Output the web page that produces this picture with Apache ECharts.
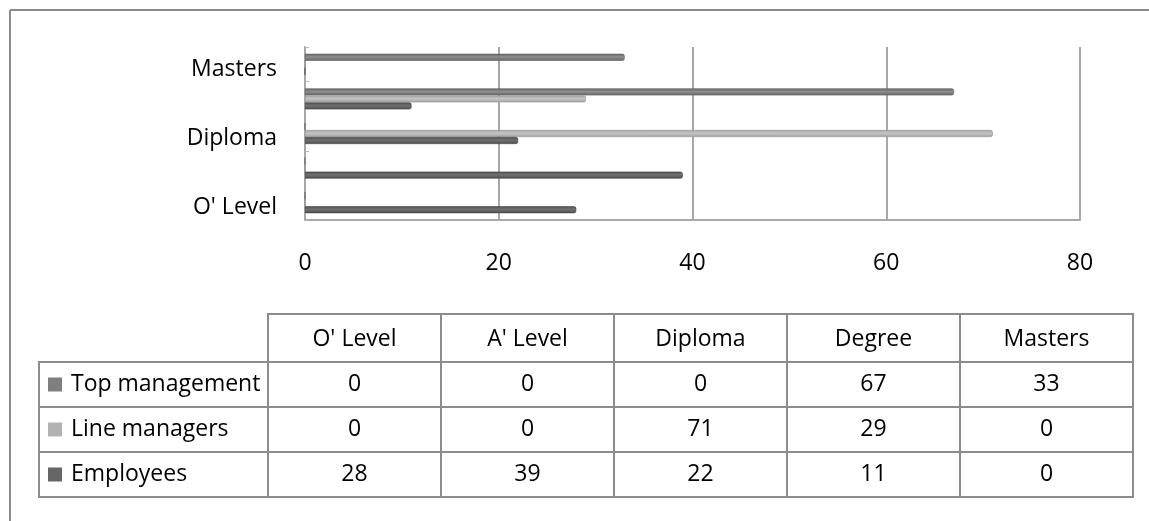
<!DOCTYPE html>
<html>
<head>
<meta charset="utf-8">
<title>Qualifications by staff level</title>
<script src="https://cdn.jsdelivr.net/npm/echarts@6/dist/echarts.min.js"></script>
<style>
  html, body { margin: 0; padding: 0; background: #ffffff; }
  #chart { width: 1149px; height: 521px; }
</style>
</head>
<body>
<div id="chart"></div>
<script>
// Education levels (bottom to top on the chart, left to right in the table)
const categories = ["O' Level", "A' Level", "Diploma", "Degree", "Masters"];

// Share of each staff group holding each qualification (%)
const topManagement = [0, 0, 0, 67, 33];
const lineManagers  = [0, 0, 71, 29, 0];
const employees     = [28, 39, 22, 11, 0];

const seriesNames = ['Top management', 'Line managers', 'Employees'];
const seriesData  = [topManagement, lineManagers, employees];

// Value axis range
const axisMin = 0;
const axisMax = 80;
const axisStep = 20;

const FONT = '"Open Sans", "Noto Sans", sans-serif';
const FONT_SIZE = 23;
const GRID_GRAY = '#a8a8a8';
const TABLE_GRAY = '#8c8c8c';

// Shaded fills give each bar a slightly rounded, extruded look
function barFill(edge, mid) {
  return new echarts.graphic.LinearGradient(0, 0, 0, 1, [
    { offset: 0, color: edge },
    { offset: 0.45, color: mid },
    { offset: 1, color: edge }
  ]);
}
const seriesStyles = {
  'Top management': { fill: barFill('#666666', '#8e8e8e'), swatch: '#7f7f7f', border: '#5e5e5e' },
  'Line managers':  { fill: barFill('#a2a2a2', '#c4c4c4'), swatch: '#b2b2b2', border: '#959595' },
  'Employees':      { fill: barFill('#4e4e4e', '#707070'), swatch: '#666666', border: '#474747' }
};

// Data table under the chart
const table = {
  left: 39,
  colStart: 268,
  colW: 173,
  top: 314,
  headH: 48,
  rowH: 45
};

function buildTable() {
  const els = [];
  const cell = (x, y, w, h) => ({
    type: 'rect', silent: true,
    shape: { x: x, y: y, width: w, height: h },
    style: { fill: 'none', stroke: TABLE_GRAY, lineWidth: 2 }
  });
  const label = (text, x, y, align) => ({
    type: 'text', silent: true, x: x, y: y,
    style: {
      text: text, fill: '#000000', fontSize: FONT_SIZE, fontFamily: FONT,
      align: align, verticalAlign: 'middle'
    }
  });
  // header row
  categories.forEach((c, i) => {
    const x = table.colStart + i * table.colW;
    els.push(cell(x, table.top, table.colW, table.headH));
    els.push(label(c, x + table.colW / 2, table.top + table.headH / 2 + 1, 'center'));
  });
  // body rows
  seriesNames.forEach((name, r) => {
    const y = table.top + table.headH + r * table.rowH;
    const cy = y + table.rowH / 2;
    els.push(cell(table.left, y, table.colStart - table.left, table.rowH));
    els.push({
      type: 'rect', silent: true,
      shape: { x: table.left + 9, y: cy - 7, width: 14, height: 14 },
      style: { fill: seriesStyles[name].swatch }
    });
    els.push(label(name, table.left + 32, cy, 'left'));
    seriesData[r].forEach((v, i) => {
      const x = table.colStart + i * table.colW;
      els.push(cell(x, y, table.colW, table.rowH));
      els.push(label(String(v), x + table.colW / 2, cy, 'center'));
    });
  });
  return els;
}

// Frame around the whole figure (top and left edges)
const frame = [
  { type: 'line', silent: true, shape: { x1: 10, y1: 10, x2: 1149, y2: 10 },
    style: { stroke: '#8a8a8a', lineWidth: 2 } },
  { type: 'line', silent: true, shape: { x1: 10, y1: 10, x2: 10, y2: 521 },
    style: { stroke: '#8a8a8a', lineWidth: 2 } }
];

const chart = echarts.init(document.getElementById('chart'), null, { renderer: 'canvas' });
chart.setOption({
  animation: false,
  backgroundColor: '#ffffff',
  grid: { left: 305, top: 47, width: 775, height: 173, containLabel: false },
  xAxis: {
    type: 'value',
    min: axisMin, max: axisMax, interval: axisStep,
    axisLine: { show: true, lineStyle: { color: GRID_GRAY, width: 2 } },
    axisTick: { show: false },
    splitLine: { show: true, lineStyle: { color: GRID_GRAY, width: 2 } },
    axisLabel: { color: '#000000', fontSize: FONT_SIZE, fontFamily: FONT, margin: 32 }
  },
  yAxis: {
    type: 'category',
    data: categories,
    axisLine: { show: true, lineStyle: { color: GRID_GRAY, width: 2 } },
    axisTick: { show: true, inside: true, length: 4, lineStyle: { color: '#b8b8b8' } },
    axisLabel: {
      interval: 1, margin: 28,
      formatter: '{c|{value}}',
      rich: {
        c: { color: '#000000', fontSize: FONT_SIZE, fontFamily: FONT, padding: [10, 0, 0, 0] }
      }
    }
  },
  // Within each category the first series is drawn on top
  series: seriesNames.map((name, idx) => ({
    name: name,
    type: 'bar',
    data: seriesData[idx],
    barWidth: 7,
    barGap: '0%',
    itemStyle: {
      color: seriesStyles[name].fill,
      borderColor: seriesStyles[name].border,
      borderWidth: 0.6,
      borderRadius: [0, 2, 2, 0]
    }
  })),
  graphic: frame.concat(buildTable())
});
</script>
</body>
</html>
